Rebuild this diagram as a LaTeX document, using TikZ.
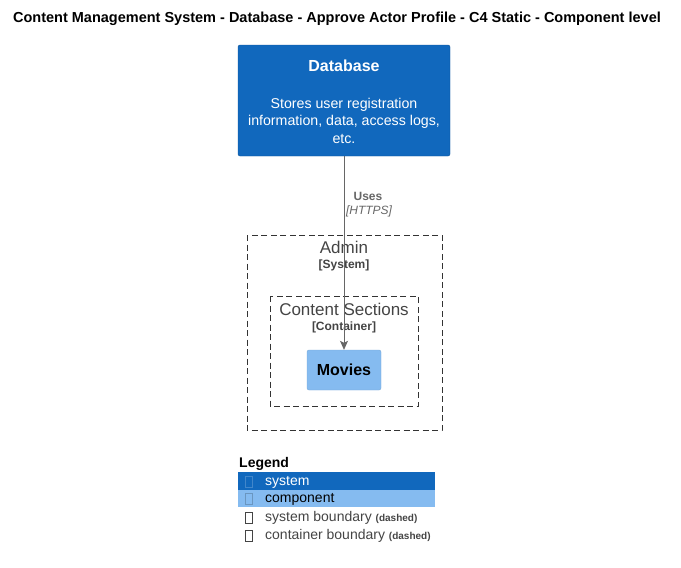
\documentclass[tikz,border=0pt]{standalone}
\usepackage{fontspec}
\setmainfont{Liberation Sans}
\usetikzlibrary{positioning,arrows.meta}
\definecolor{system fill}{HTML}{1168BD}
\definecolor{component fill}{HTML}{85BBF0}
\definecolor{line gray}{HTML}{666666}
\definecolor{text gray}{HTML}{444444}
\tikzset{system/.style={fill=system fill, draw=system fill!80!black, rounded corners=2pt,
        text=white, align=center, inner sep=0pt},
    component/.style={fill=component fill, draw=component fill!90!black, rounded corners=2pt,
        text=black, inner sep=0pt},
    boundary/.style={draw=black!80, dash pattern=on 6pt off 3.5pt, thin},
    tofu/.style={draw=#1, line width=0.5pt, minimum width=7pt, minimum height=11pt, inner sep=0pt},
    rel/.style={draw=line gray, -{Stealth[length=9pt,width=8pt,inset=2pt]}, line width=0.8pt}}
\begin{document}
\begin{tikzpicture}[x=1pt,y=-1pt]
    \useasboundingbox (0,0) rectangle (681,568);
    \node[font=\fontsize{14.5}{16}\selectfont\bfseries] (title) at (337,19)
        {Content Management System - Database - Approve Actor Profile - C4 Static - Component level};

    % database
    \node[system, minimum width=212pt, minimum height=111pt] (db) at (344,100.5) {};
    \node[text=white, font=\fontsize{16}{18}\selectfont\bfseries] (dbname) at (344,66) {Database};
    \node[text=white, align=center, font=\fontsize{14.2}{17.5}\selectfont] (dbdesc) at (344,120.5)
        {Stores user registration\\information, data, access logs,\\etc.};

    % boundaries
    \draw[boundary] (247,235) rectangle (442,430);
    \node[text=text gray, font=\fontsize{17}{19}\selectfont] (admin) at (344,247) {Admin};
    \node[text=text gray, font=\fontsize{12}{14}\selectfont\bfseries] (admintype) at (344,265) {[System]};
    \draw[boundary] (270,296) rectangle (418,406);
    \node[text=text gray, font=\fontsize{17}{19}\selectfont] (sections) at (344,309) {Content Sections};
    \node[text=text gray, font=\fontsize{12}{14}\selectfont\bfseries] (sectionstype) at (344,327) {[Container]};

    % component
    \node[component, minimum width=74pt, minimum height=40pt,
          font=\fontsize{16}{18}\selectfont\bfseries] (movies) at (344,370) {Movies};

    % relation
    \draw[rel] (db.south -| movies.north) -- (movies.north);
    \node[text=line gray, font=\fontsize{12}{14}\selectfont\bfseries] (uses) at (368,196) {Uses};
    \node[text=line gray, font=\fontsize{12}{14}\selectfont\itshape] (proto) at (369,211) {[HTTPS]};

    % legend
    \node[anchor=west, font=\fontsize{14}{16}\selectfont\bfseries, inner sep=0pt] (legend) at (239,464) {Legend};
    \fill[system fill] (238,472) rectangle (435,490);
    \fill[component fill] (238,490) rectangle (435,507);
    \node[tofu=system fill!80!white] (t1) at (249,482) {};
    \node[tofu=component fill!80!black] (t2) at (249,499) {};
    \node[tofu=text gray] (t3) at (249,518) {};
    \node[tofu=text gray] (t4) at (249,536) {};
    \node[anchor=west, text=white, font=\fontsize{14}{16}\selectfont, inner sep=0pt] (l1) at (265,482) {system};
    \node[anchor=west, text=black, font=\fontsize{14}{16}\selectfont, inner sep=0pt] (l2) at (265,499) {component};
    \node[anchor=west, text=text gray, font=\fontsize{14}{16}\selectfont, inner sep=0pt] (l3) at (265,518)
        {system boundary {\fontsize{10}{11}\selectfont\bfseries (dashed)}};
    \node[anchor=west, text=text gray, font=\fontsize{14}{16}\selectfont, inner sep=0pt] (l4) at (265,536)
        {container boundary {\fontsize{10}{11}\selectfont\bfseries (dashed)}};
\end{tikzpicture}
\end{document}
